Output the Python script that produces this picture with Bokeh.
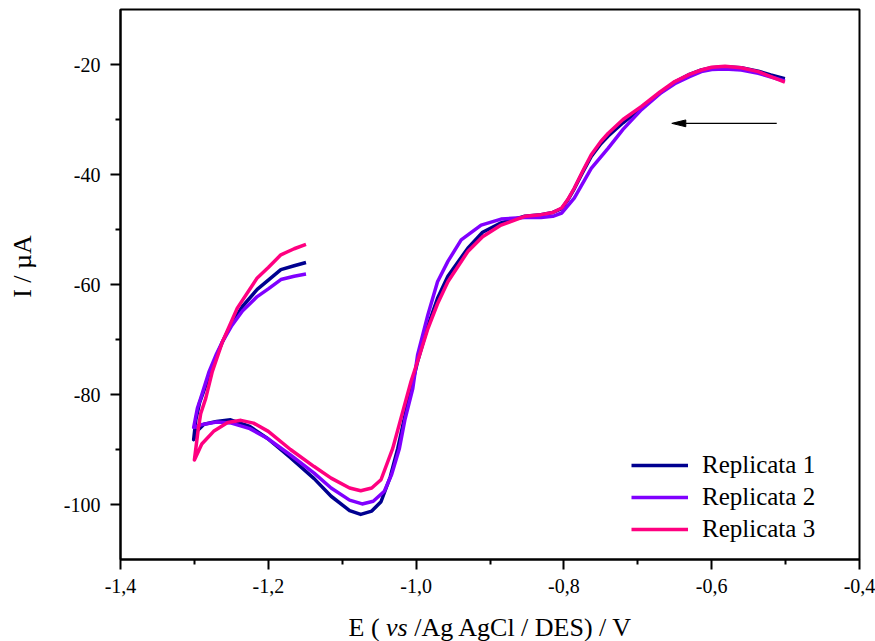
from math import pi
from bokeh.plotting import figure
from bokeh.layouts import column, row
from bokeh.models import Range1d, FixedTicker, Legend, LegendItem, Label
from bokeh.embed import file_html
from bokeh.resources import INLINE

# ---- data (E / V, I / uA), forward sweep from -0.5 V to -1.3 V then back to -1.15 V ----
r1_e = [-0.501, -0.52, -0.537, -0.56, -0.582, -0.60, -0.614, -0.63, -0.65, -0.67, -0.695, -0.72,
        -0.74, -0.75, -0.763, -0.775, -0.786, -0.795, -0.803, -0.815, -0.831, -0.853, -0.885,
        -0.91, -0.93, -0.957, -0.971, -0.984, -0.998, -1.0045, -1.015, -1.0248, -1.035, -1.0475,
        -1.06, -1.075, -1.09, -1.115, -1.138, -1.17, -1.201, -1.225, -1.251, -1.27, -1.287,
        -1.296, -1.301,
        -1.298, -1.293, -1.285, -1.278, -1.27, -1.262, -1.25, -1.235, -1.215, -1.20, -1.183,
        -1.165, -1.149]
r1_i = [-22.6, -21.9, -21.2, -20.6, -20.4, -20.6, -21.0, -21.8, -23.2, -25.2, -27.9, -30.6,
        -33.0, -34.4, -36.7, -39.7, -42.6, -44.7, -46.2, -46.9, -47.3, -47.6, -48.8,
        -50.5, -53.4, -58.5, -62.5, -67.5, -74.0, -77.6, -83.8, -89.8, -95.0, -99.5,
        -101.2, -101.8, -101.1, -98.5, -95.3, -91.5, -88.0, -85.8, -84.6, -84.9, -85.4,
        -86.6, -88.2,
        -84.5, -81.5, -78.5, -75.8, -73.0, -70.4, -67.2, -64.0, -60.9, -59.2, -57.3,
        -56.6, -56.0]

r2_e = [-0.501, -0.537, -0.56, -0.582, -0.60, -0.614, -0.63, -0.65, -0.67, -0.695, -0.72,
        -0.74, -0.763, -0.786, -0.803, -0.815, -0.831, -0.853, -0.885, -0.912, -0.939,
        -0.957, -0.971, -0.984, -0.998, -1.0045, -1.015, -1.0226, -1.033, -1.043, -1.058,
        -1.073, -1.09, -1.115, -1.138, -1.17, -1.201, -1.225, -1.25, -1.27, -1.291, -1.301,
        -1.296, -1.2915, -1.28, -1.27, -1.262, -1.25, -1.235, -1.215, -1.20, -1.183, -1.165,
        -1.149]
r2_i = [-23.0, -21.6, -21.0, -20.8, -20.9, -21.3, -22.2, -23.5, -25.3, -28.2, -31.8,
        -35.2, -38.9, -44.3, -47.0, -47.6, -47.8, -47.8, -48.1, -49.2, -51.9,
        -55.8, -59.5, -65.5, -72.8, -78.9, -84.5, -89.8, -94.5, -97.6, -99.4,
        -99.9, -99.2, -97.0, -94.3, -91.0, -88.0, -86.2, -85.2, -85.0, -85.5, -86.0,
        -82.5, -80.7, -75.8, -72.6, -70.4, -67.6, -64.8, -62.2, -60.8, -59.1, -58.5,
        -58.1]

r3_e = [-0.501, -0.52, -0.537, -0.56, -0.582, -0.60, -0.614, -0.63, -0.65, -0.67, -0.695, -0.72,
        -0.74, -0.75, -0.763, -0.775, -0.786, -0.795, -0.803, -0.815, -0.831, -0.853, -0.885,
        -0.91, -0.93, -0.957, -0.971, -0.984, -0.998, -1.0068, -1.0316, -1.0475, -1.06,
        -1.075, -1.09, -1.115, -1.138, -1.17, -1.20, -1.22, -1.237, -1.255, -1.274, -1.29,
        -1.300,
        -1.295, -1.2915, -1.2847, -1.2757, -1.262, -1.242, -1.215, -1.20, -1.183, -1.165,
        -1.149]
r3_i = [-23.2, -22.2, -21.3, -20.6, -20.3, -20.5, -21.0, -21.8, -23.1, -25.0, -27.6, -30.0,
        -32.5, -34.0, -36.4, -39.5, -42.5, -44.6, -46.1, -46.9, -47.3, -47.6, -49.2,
        -51.3, -54.0, -59.5, -63.5, -68.0, -74.0, -77.6, -89.8, -95.5, -97.0,
        -97.5, -97.0, -95.2, -93.1, -90.0, -86.7, -85.2, -84.7, -85.1, -86.7, -89.0,
        -91.9,
        -86.5, -83.5, -80.7, -75.8, -70.4, -64.3, -58.8, -56.9, -54.6, -53.5,
        -52.7]

series_names = ["Replicata 1", "Replicata 2", "Replicata 3"]
series_colors = ["#000090", "#8000FF", "#FF0080"]

x_ticks = [-1.4, -1.2, -1.0, -0.8, -0.6, -0.4]
x_tick_labels = ["-1,4", "-1,2", "-1,0", "-0,8", "-0,6", "-0,4"]
x_minor = [-1.3, -1.1, -0.9, -0.7, -0.5]
y_ticks = [-100, -80, -60, -40, -20]
y_tick_labels = ["-100", "-80", "-60", "-40", "-20"]
y_minor = [-90, -70, -50, -30]

x_title_parts = ["E (", "vs", "/Ag AgCl / DES) / V"]
y_title = "I / \u00b5A"

# scan-direction arrow (annotation)
arrow_x_start = -0.512
arrow_x_tip = -0.654
arrow_y = -30.7

FONT = "Liberation Serif"
PAGE_W, PAGE_H = 875, 641
LEFT_W = 40          # strip holding the y title
MAIN_H = 605         # height of the main plot
FRAME_L, FRAME_R, FRAME_T, FRAME_B = 120, 859, 9, 559   # page pixels of the plot frame

p = figure(width=PAGE_W - LEFT_W, height=MAIN_H, output_backend="svg", toolbar_location=None,
           x_range=Range1d(-1.4, -0.4), y_range=Range1d(-110, -10),
           min_border_left=FRAME_L - LEFT_W, min_border_right=PAGE_W - FRAME_R,
           min_border_top=FRAME_T, min_border_bottom=MAIN_H - FRAME_B)
p.grid.visible = False
p.outline_line_color = "black"
p.outline_line_width = 2
p.background_fill_color = "white"
p.border_fill_color = "white"

for ax, ticks, minor, labels in ((p.xaxis[0], x_ticks, x_minor, x_tick_labels),
                                 (p.yaxis[0], y_ticks, y_minor, y_tick_labels)):
    ax.ticker = FixedTicker(ticks=ticks, minor_ticks=minor)
    ax.major_label_overrides = {t: l for t, l in zip(ticks, labels)}
    ax.axis_line_width = 2
    ax.axis_line_color = "black"
    ax.major_tick_line_width = 2
    ax.minor_tick_line_width = 2
    ax.major_tick_line_color = "black"
    ax.minor_tick_line_color = "black"
    ax.major_tick_out = 10
    ax.major_tick_in = 0
    ax.minor_tick_out = 5
    ax.minor_tick_in = 0
    ax.major_label_text_font = FONT
    ax.major_label_text_font_size = "20px"
    ax.major_label_text_color = "black"
p.xaxis.major_label_standoff = 9
p.yaxis.major_label_standoff = 10

renderers = []
for e, i, c in ((r1_e, r1_i, series_colors[0]), (r2_e, r2_i, series_colors[1]),
                (r3_e, r3_i, series_colors[2])):
    renderers.append(p.line(e, i, line_color=c, line_width=3.5, line_join="round"))

# arrow
frame_w = FRAME_R - FRAME_L
frame_h = FRAME_B - FRAME_T
head_len = 14 * 1.0 / frame_w
head_half = 3.4 * 100.0 / frame_h
p.segment(x0=[arrow_x_start], y0=[arrow_y], x1=[arrow_x_tip + head_len], y1=[arrow_y],
          line_color="black", line_width=1.2)
p.patch([arrow_x_tip, arrow_x_tip + head_len, arrow_x_tip + head_len],
        [arrow_y, arrow_y + head_half, arrow_y - head_half],
        fill_color="black", line_color="black", line_width=1)

legend = Legend(items=[LegendItem(label=n, renderers=[r]) for n, r in zip(series_names, renderers)],
                location=(511, 14), border_line_color=None, background_fill_alpha=0,
                glyph_width=57, glyph_height=32, label_height=32, spacing=0, padding=0,
                margin=0, label_standoff=14, label_text_font=FONT,
                label_text_font_size="25px", label_text_color="black")
p.add_layout(legend)

fs = 26

def strip(w, h):
    f = figure(width=w, height=h, output_backend="svg", toolbar_location=None,
               x_range=Range1d(0, w), y_range=Range1d(0, h),
               x_axis_type=None, y_axis_type=None, title=None,
               min_border=0, min_border_left=0, min_border_right=0,
               min_border_top=0, min_border_bottom=0)
    f.grid.visible = False
    f.outline_line_color = None
    f.background_fill_color = "white"
    f.border_fill_color = "white"
    return f

# y title strip
py = strip(LEFT_W, MAIN_H)
py.add_layout(Label(x=22, y=293, x_units="screen", y_units="screen", text=y_title,
                    angle=pi / 2, text_align="center", text_baseline="middle",
                    text_font=FONT, text_font_size=f"{fs}px", text_color="black"))

# x title strip (italic "vs")
bottom_h = PAGE_H - MAIN_H
px = strip(PAGE_W, bottom_h)
x0 = 348
offsets = [0, 1.444 * fs, (1.444 + 1.083) * fs]
styles = ["normal", "italic", "normal"]
for t, o, s in zip(x_title_parts, offsets, styles):
    px.add_layout(Label(x=x0 + o, y=14, x_units="screen", y_units="screen",
                        text=t, text_align="left", text_baseline="middle",
                        text_font=FONT, text_font_size=f"{fs}px", text_font_style=s,
                        text_color="black"))

layout = column(row(py, p, spacing=0), px, spacing=0)
with open("out.html", "w", encoding="utf-8") as fh:
    fh.write(file_html(layout, INLINE))
